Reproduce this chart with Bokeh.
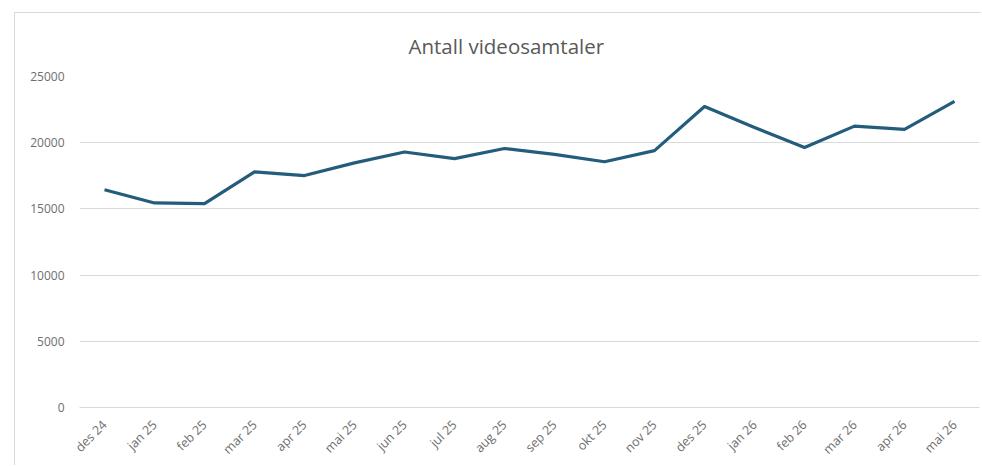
from math import pi
from bokeh.plotting import figure
from bokeh.models import FactorRange, Range1d, FixedTicker
from bokeh.embed import file_html
from bokeh.resources import INLINE

months = ["des 24", "jan 25", "feb 25", "mar 25", "apr 25", "mai 25", "jun 25", "jul 25", "aug 25",
          "sep 25", "okt 25", "nov 25", "des 25", "jan 26", "feb 26", "mar 26", "apr 26", "mai 26"]
calls = [16450, 15450, 15400, 17800, 17520, 18480, 19300, 18800, 19560,
         19120, 18560, 19400, 22730, 21150, 19640, 21250, 21000, 23120]
y_ticks = [0, 5000, 10000, 15000, 20000, 25000]
title_text = "Antall videosamtaler"

FONT = "Open Sans"
GRID = "#d9d9d9"
TXT = "#6e6e6e"

p = figure(x_range=FactorRange(*months, range_padding=0), y_range=Range1d(0, 25000),
           width=967, height=453, output_backend="svg", toolbar_location=None,
           min_border_left=64, min_border_right=3, min_border_top=63, min_border_bottom=59,
           title=title_text)
p.margin = (12, 0, 0, 14)
p.styles = {"border-left": "1px solid #d9d9d9", "border-top": "1px solid #d9d9d9"}

p.title.align = "left"
p.title.offset = 329
p.title.standoff = 33
p.title.text_font = FONT
p.title.text_font_size = "20.5px"
p.title.text_font_style = "normal"
p.title.text_color = "#595959"

p.line(months, calls, line_width=3.2, color="#245C7B", line_join="round")

p.outline_line_color = None
p.xgrid.grid_line_color = None
p.ygrid.grid_line_color = GRID
p.ygrid.grid_line_width = 1

p.yaxis.ticker = FixedTicker(ticks=y_ticks)
p.yaxis.axis_line_color = None
p.yaxis.major_tick_line_color = None
p.yaxis.minor_tick_line_color = None
p.yaxis.major_tick_out = 0
p.yaxis.major_label_standoff = 15
p.yaxis.major_label_text_font = FONT
p.yaxis.major_label_text_font_size = "12px"
p.yaxis.major_label_text_color = TXT

p.xaxis.axis_line_color = GRID
p.xaxis.axis_line_width = 1
p.xaxis.major_tick_line_color = None
p.xaxis.major_tick_out = 0
p.xaxis.major_label_orientation = pi / 4
p.xaxis.major_label_standoff = 15
p.xaxis.major_label_text_font = FONT
p.xaxis.major_label_text_font_size = "12.5px"
p.xaxis.major_label_text_color = TXT

open("out.html", "w").write(file_html(p, INLINE))
